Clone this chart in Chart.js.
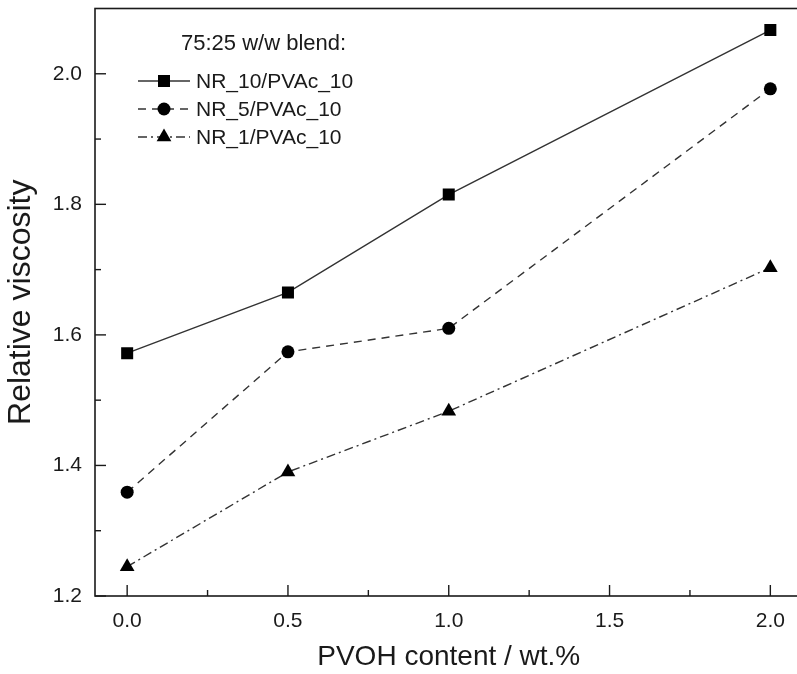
<!DOCTYPE html>
<html>
<head>
<meta charset="utf-8">
<script src="https://cdn.jsdelivr.net/npm/chart.js@4.4.0/dist/chart.umd.min.js"></script>
<style>
  html, body { margin: 0; padding: 0; background: #fff; overflow: hidden; }
  #viscChart { display: block; }
</style>
</head>
<body>
<canvas id="viscChart" width="811" height="674"></canvas>
<script>
// Relative viscosity vs PVOH content, 75:25 w/w blends

const pvoh = [0.0, 0.5, 1.0, 2.0];
const nr10 = [1.572, 1.665, 1.815, 2.067];
const nr5  = [1.359, 1.574, 1.610, 1.977];
const nr1  = [1.245, 1.390, 1.483, 1.703];

const seriesNames = ["NR_10/PVAc_10", "NR_5/PVAc_10", "NR_1/PVAc_10"];
const legendTitle = "75:25 w/w blend:";

const xTicks = [0.0, 0.5, 1.0, 1.5, 2.0];
const xMinor = [0.25, 0.75, 1.25, 1.75];
const yTicks = [1.2, 1.4, 1.6, 1.8, 2.0];
const yMinor = [1.3, 1.5, 1.7, 1.9];

const INK = "#1a1a1a";
const FONT = "'Liberation Sans', Arial, sans-serif";
const PLOT_RIGHT = 807; // right frame edge, just past the cropped window

const toPts = (xs, ys) => xs.map((x, i) => ({ x, y: ys[i] }));

// ─── Frame, inward ticks and in-plot legend ──────────────────────────────────
const framePlugin = {
  id: "frame",
  afterDraw(chart) {
    const { ctx, chartArea: a, scales } = chart;
    ctx.save();
    ctx.strokeStyle = INK;
    ctx.lineWidth = 1.6;
    ctx.strokeRect(a.left, a.top, a.right - a.left, a.bottom - a.top);

    ctx.lineWidth = 1.4;
    const seg = (x1, y1, x2, y2) => {
      ctx.beginPath(); ctx.moveTo(x1, y1); ctx.lineTo(x2, y2); ctx.stroke();
    };
    xTicks.forEach(v => { const p = scales.x.getPixelForValue(v); seg(p, a.bottom, p, a.bottom - 11); });
    xMinor.forEach(v => { const p = scales.x.getPixelForValue(v); seg(p, a.bottom, p, a.bottom - 6); });
    yTicks.forEach(v => { const p = scales.y.getPixelForValue(v); seg(a.left, p, a.left + 11, p); });
    yMinor.forEach(v => { const p = scales.y.getPixelForValue(v); seg(a.left, p, a.left + 6, p); });

    // legend
    ctx.fillStyle = INK;
    ctx.font = "22px " + FONT;
    ctx.textBaseline = "middle";
    ctx.textAlign = "left";
    ctx.fillText(legendTitle, 181, 44);
    ctx.font = "21px " + FONT;
    chart.data.datasets.forEach((ds, i) => {
      const y = 81 + i * 28;
      ctx.strokeStyle = ds.borderColor;
      ctx.lineWidth = ds.borderWidth;
      ctx.setLineDash(ds.borderDash || []);
      seg(138, y, 190, y);
      ctx.setLineDash([]);
      ctx.fillStyle = "#000";
      Chart.helpers.drawPoint(ctx, {
        pointStyle: ds.pointStyle, radius: ds.pointRadius, borderWidth: 0, rotation: 0,
      }, 164, y);
      ctx.fillStyle = INK;
      ctx.fillText(ds.label, 196, y + 1);
    });
    ctx.restore();
  }
};

const noPad = s => { s.paddingTop = 0; s.paddingBottom = 0; s.paddingLeft = 0; s.paddingRight = 0; };

const common = {
  borderColor: "#333",
  borderWidth: 1.4,
  backgroundColor: "#000",
  pointBorderColor: "#000",
  pointBackgroundColor: "#000",
  pointBorderWidth: 0,
  tension: 0,
  fill: false,
};

const chart = new Chart(document.getElementById("viscChart"), {
  type: "line",
  data: {
    datasets: [
      { ...common, label: seriesNames[0], data: toPts(pvoh, nr10), pointStyle: "rect", pointRadius: 8.5 },
      { ...common, label: seriesNames[1], data: toPts(pvoh, nr5), pointStyle: "circle", pointRadius: 6.5, borderDash: [8, 6] },
      { ...common, label: seriesNames[2], data: toPts(pvoh, nr1), pointStyle: "triangle", pointRadius: 8.5, borderDash: [9, 4, 2, 4] },
    ]
  },
  options: {
    responsive: false,
    animation: false,
    layout: { padding: { top: 8, right: 0, left: 0, bottom: 0 } },
    plugins: { legend: { display: false }, tooltip: { enabled: false } },
    scales: {
      x: {
        type: "linear",
        min: -0.1,
        max: 2.1,
        afterBuildTicks: s => { s.ticks = xTicks.map(v => ({ value: v })); },
        afterFit: s => { s.height = 78; noPad(s); },
        grid: { display: false, drawTicks: false },
        border: { display: false },
        ticks: {
          padding: 13,
          color: INK,
          font: { family: FONT, size: 21 },
          callback: v => Number(v).toFixed(1),
        },
        title: {
          display: true,
          text: "PVOH content / wt.%",
          color: INK,
          font: { family: FONT, size: 28 },
          padding: { top: 0, bottom: 0 },
        },
      },
      y: {
        type: "linear",
        min: 1.2,
        max: 2.1,
        afterBuildTicks: s => { s.ticks = yTicks.map(v => ({ value: v })); },
        afterFit: s => { s.width = 95; noPad(s); },
        grid: { display: false, drawTicks: false },
        border: { display: false },
        ticks: {
          padding: 13,
          color: INK,
          font: { family: FONT, size: 21 },
          callback: v => Number(v).toFixed(1),
        },
        title: {
          display: true,
          text: "Relative viscosity",
          color: INK,
          font: { family: FONT, size: 32 },
          padding: { top: 2, bottom: 0 },
        },
      },
    },
  },
  plugins: [framePlugin],
});

// widen the canvas until the plot's right edge lands where the original had it
for (let i = 0; i < 3; i++) {
  const diff = PLOT_RIGHT - chart.chartArea.right;
  if (Math.abs(diff) < 0.5) break;
  chart.resize(Math.round(chart.width + diff), 674);
}
</script>
</body>
</html>
